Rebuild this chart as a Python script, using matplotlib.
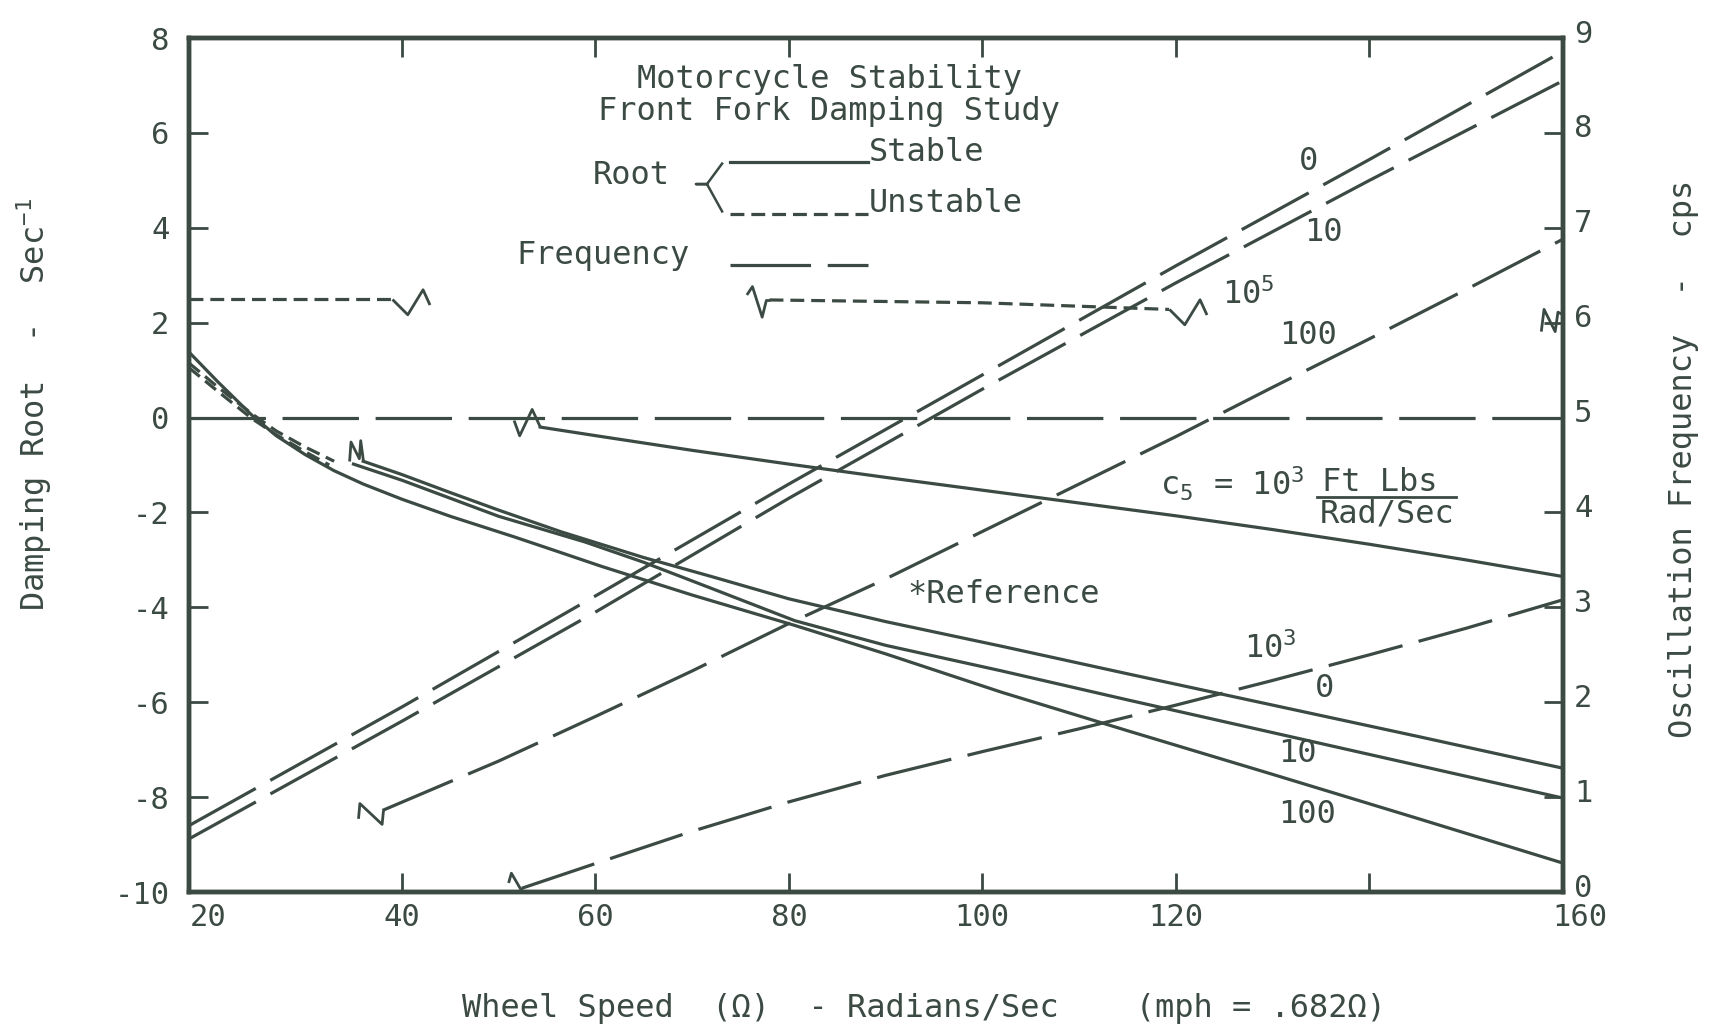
import matplotlib
matplotlib.use("Agg")
import matplotlib.pyplot as plt
import matplotlib.transforms as mtransforms
from matplotlib.path import Path

plt.rcParams['font.family'] = ['DejaVu Sans Mono', 'Liberation Mono']
plt.rcParams['mathtext.fontset'] = 'custom'
plt.rcParams['mathtext.rm'] = 'DejaVu Sans Mono'
plt.rcParams['mathtext.it'] = 'DejaVu Sans Mono'
plt.rcParams['axes.unicode_minus'] = False
plt.rcParams['lines.scale_dashes'] = False

# ---- data ----
# frequency curves (cps, right axis)
speed_f0 = [18, 40, 60, 80, 100, 120, 140, 160]
freq_c0 = [0.70, 1.95, 3.12, 4.30, 5.45, 6.60, 7.72, 8.86]
speed_f10 = [18, 40, 60, 80, 100, 120, 140, 160]
freq_c10 = [0.56, 1.80, 2.95, 4.15, 5.30, 6.42, 7.50, 8.55]
speed_f100 = [38, 50, 60, 70, 80, 90, 100, 110, 120, 130, 140, 150, 160]
freq_c100 = [0.86, 1.38, 1.85, 2.33, 2.83, 3.30, 3.80, 4.30, 4.80, 5.32, 5.83, 6.35, 6.88]
speed_f1k = [52.4, 60, 70, 80, 90, 100, 110, 120, 130, 140, 150, 160]
freq_c1k = [0.04, 0.30, 0.64, 0.95, 1.23, 1.48, 1.72, 1.97, 2.23, 2.50, 2.78, 3.08]

# damping roots (1/sec, left axis), stable
speed_r0 = [36, 40, 45, 50, 56.5, 65, 72, 80, 90, 102, 115, 130, 145, 160]
root_c0 = [-0.92, -1.20, -1.58, -1.95, -2.41, -2.95, -3.35, -3.82, -4.30, -4.82, -5.40, -6.06, -6.72, -7.39]
speed_r10 = [35, 40, 45, 50, 58.9, 65, 72, 80.6, 90, 102, 115, 130, 145, 160]
root_c10 = [-0.98, -1.32, -1.70, -2.08, -2.62, -3.05, -3.60, -4.28, -4.80, -5.34, -5.95, -6.64, -7.33, -8.02]
speed_r100 = [18, 21, 24.5, 27, 30, 33, 36, 40, 45, 51.7, 56.5, 60.7, 70, 80.6, 90, 102, 115, 130, 145, 160]
root_c100 = [1.38, 0.75, 0.05, -0.38, -0.78, -1.12, -1.40, -1.72, -2.08, -2.52, -2.85, -3.14, -3.74, -4.38, -4.98, -5.79, -6.60, -7.52, -8.45, -9.39]
speed_r1k = [54.3, 60, 70, 80, 90, 100, 110, 120, 130, 140, 150, 160]
root_c1k = [-0.20, -0.38, -0.69, -0.98, -1.26, -1.53, -1.80, -2.07, -2.36, -2.67, -3.00, -3.35]

# unstable parts
speed_d1 = [18, 21, 24.5, 27, 30, 33]
root_d1 = [1.15, 0.64, 0.08, -0.28, -0.62, -0.92]
speed_d2 = [18, 21, 24.5, 27, 30, 32.5]
root_d2 = [1.05, 0.55, -0.02, -0.36, -0.72, -1.00]
speed_u1 = [18, 39]
root_u1 = [2.50, 2.50]
speed_u2 = [78, 100, 119.3]
root_u2 = [2.48, 2.42, 2.28]
speed_u3 = [160]
root_u3 = [2.05]

speed_zero = [18, 160]
root_zero = [0, 0]

xtick_vals = [20, 40, 60, 80, 100, 120, 160]
xtick_labels = ['20', '40', '60', '80', '100', '120', '160']

ink = '#3b4a42'
LONG = (0, (55, 12))
SHORT = (0, (10, 5))
LW = 2.3

# break marks, drawn in points around the end of a line
G_V = [(0, 0), (11, -11), (22, 7), (27, -4)]
G_LAMBDA = [(-17, 4), (-13, 10), (-6, -12), (-3, 0), (0, 0)]
G_NAXIS = [(-16, -8), (-14, 8), (-6, -8), (-4, 6), (0, 4)]
G_ZERO = [(-19, 5), (-15, -6), (-6, 13), (0, 0)]
G_N = [(-10, 0), (-9, 14), (-3, 2), (-2, 15), (0, 0)]
G_F100 = [(-18, -6), (-17, 5), (-1, -10), (0, 0)]
G_F1K = [(-10, 4), (-8, 11), (-1, -1), (0, 0)]


def brk(a, x, y, verts):
    m = max(abs(v) for p in verts for v in p)
    a.plot([x], [y], ls='none', marker=Path(verts), ms=2 * m, mfc='none',
           mec=ink, mew=2.0, clip_on=False, zorder=4)


fig = plt.figure(figsize=(17.23, 10.34), dpi=100)
fig.patch.set_facecolor('white')
ax = fig.add_axes([0.1097, 0.1373, 0.7974, 0.8259])
ax.set_xlim(18, 160)
ax.set_ylim(-10, 8)
ax2 = ax.twinx()
ax2.set_ylim(0, 9)

# frequency lines
for sx, sy in [(speed_f0, freq_c0), (speed_f10, freq_c10),
               (speed_f100, freq_c100), (speed_f1k, freq_c1k)]:
    ax2.plot(sx, sy, color=ink, lw=LW, ls=LONG)

# zero reference
ax.plot(speed_zero, root_zero, color=ink, lw=LW, ls=LONG)

# roots
for sx, sy in [(speed_r0, root_c0), (speed_r10, root_c10),
               (speed_r100, root_c100), (speed_r1k, root_c1k)]:
    ax.plot(sx, sy, color=ink, lw=LW)
for sx, sy in [(speed_d1, root_d1), (speed_d2, root_d2),
               (speed_u1, root_u1), (speed_u2, root_u2)]:
    ax.plot(sx, sy, color=ink, lw=LW, ls=SHORT)

brk(ax, speed_u1[-1], root_u1[-1], G_V)
brk(ax, speed_u2[0], root_u2[0], G_LAMBDA)
brk(ax, speed_u2[-1], root_u2[-1], G_V)
brk(ax, speed_u3[0], root_u3[0], G_NAXIS)
brk(ax, speed_r1k[0], root_c1k[0], G_ZERO)
brk(ax, speed_r0[0], root_c0[0], G_N)
brk(ax2, speed_f100[0], freq_c100[0], G_F100)
brk(ax2, speed_f1k[0], freq_c1k[0], G_F1K)

# axes styling
for a in (ax, ax2):
    for s in a.spines.values():
        s.set_linewidth(3.2)
        s.set_color(ink)
ax.xaxis.remove_overlapping_locs = False
ax.set_xticks(xtick_vals)
ax.set_xticklabels(xtick_labels)
ax.tick_params(axis='x', which='major', length=0, pad=8, labelsize=22, labelcolor=ink)
ax.set_xticks([40, 60, 80, 100, 120, 140], minor=True)
ax.tick_params(axis='x', which='minor', direction='in', length=14, width=2,
               top=True, bottom=True, color=ink)
ax.set_yticks(range(-10, 9, 2))
ax.tick_params(axis='y', direction='in', length=14, width=2, pad=14,
               labelsize=22, color=ink, labelcolor=ink)
ax2.set_yticks(range(0, 10))
ax2.tick_params(axis='y', direction='in', length=14, width=2, pad=8,
                labelsize=22, color=ink, labelcolor=ink)

up = mtransforms.ScaledTranslation(0, 5 / 72, fig.dpi_scale_trans)
for lab in ax2.get_yticklabels():
    lab.set_transform(lab.get_transform() + up)
right = mtransforms.ScaledTranslation(12 / 72, 0, fig.dpi_scale_trans)
last = ax.get_xticklabels()[-1]
last.set_transform(last.get_transform() + right)

fs = 23
# title and key
ax.text(0.466, 0.951, 'Motorcycle Stability', transform=ax.transAxes,
        ha='center', va='center', fontsize=fs, color=ink)
ax.text(0.466, 0.914, 'Front Fork Damping Study', transform=ax.transAxes,
        ha='center', va='center', fontsize=fs, color=ink)
ax.text(0.322, 0.839, 'Root', transform=ax.transAxes, ha='center', va='center',
        fontsize=fs, color=ink)
ax.plot([0.388, 0.377, 0.369, 0.377, 0.388], [0.853, 0.829, 0.829, 0.829, 0.797],
        transform=ax.transAxes, color=ink, lw=1.8)
ax.plot([0.394, 0.494], [0.855, 0.855], transform=ax.transAxes, color=ink, lw=LW)
ax.plot([0.394, 0.494], [0.794, 0.794], transform=ax.transAxes, color=ink, lw=LW, ls=SHORT)
ax.plot([0.394, 0.494], [0.734, 0.734], transform=ax.transAxes, color=ink, lw=LW,
        ls=(0, (58, 12)))
ax.text(0.495, 0.866, 'Stable', transform=ax.transAxes, ha='left', va='center',
        fontsize=fs, color=ink)
ax.text(0.495, 0.806, 'Unstable', transform=ax.transAxes, ha='left', va='center',
        fontsize=fs, color=ink)
ax.text(0.301, 0.745, 'Frequency', transform=ax.transAxes, ha='center', va='center',
        fontsize=fs, color=ink)

# curve labels
labels = [('0', 133.7, 5.40), ('10', 135.2, 3.91), ('10$^5$', 127.5, 2.6),
          ('100', 133.7, 1.74), ('c$_5$ = 10$^3$', 125.8, -1.40),
          ('*Reference', 102.2, -3.72), ('10$^3$', 129.8, -4.88),
          ('0', 135.4, -5.70), ('10', 132.6, -7.09), ('100', 133.5, -8.37)]
for t, lx, ly in labels:
    ax.text(lx, ly, t, ha='center', va='center', fontsize=fs, color=ink)
ax.text(0.867, 0.479, 'Ft Lbs', transform=ax.transAxes, ha='center', va='center',
        fontsize=fs, color=ink)
ax.plot([0.821, 0.922], [0.462, 0.462], transform=ax.transAxes, color=ink, lw=2.0)
ax.text(0.872, 0.443, 'Rad/Sec', transform=ax.transAxes, ha='center', va='center',
        fontsize=fs, color=ink)

# axis titles
fig.text(0.020, 0.609, 'Damping Root  -  Sec$^{-1}$', rotation=90, ha='center',
         va='center', fontsize=fs, color=ink)
fig.text(0.977, 0.556, 'Oscillation Frequency  -  cps', rotation=90, ha='center',
         va='center', fontsize=fs, color=ink)
fig.text(0.268, 0.025, 'Wheel Speed  (\u03a9)  - Radians/Sec    (mph = .682\u03a9)',
         ha='left', va='center', fontsize=fs, color=ink)

fig.savefig('out.png', dpi=100, facecolor='white')
